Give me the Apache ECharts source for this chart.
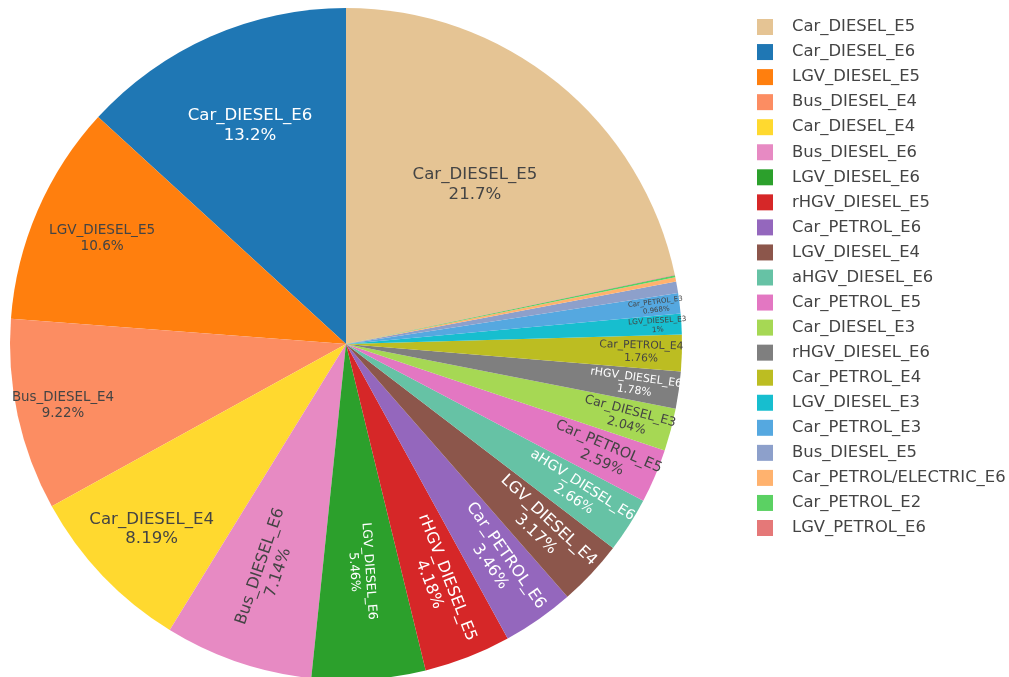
<!DOCTYPE html>
<html>
<head>
<meta charset="utf-8">
<script src="https://cdn.jsdelivr.net/npm/echarts@6/dist/echarts.min.js"></script>
<style>
  html, body { margin: 0; padding: 0; background: #fff; }
  #chart { width: 1009px; height: 677px; }
</style>
</head>
<body>
<div id="chart"></div>
<script>
// Vehicle category shares (% of total)
const categories = [
  'Car_DIESEL_E5', 'Car_DIESEL_E6', 'LGV_DIESEL_E5', 'Bus_DIESEL_E4', 'Car_DIESEL_E4',
  'Bus_DIESEL_E6', 'LGV_DIESEL_E6', 'rHGV_DIESEL_E5', 'Car_PETROL_E6', 'LGV_DIESEL_E4',
  'aHGV_DIESEL_E6', 'Car_PETROL_E5', 'Car_DIESEL_E3', 'rHGV_DIESEL_E6', 'Car_PETROL_E4',
  'LGV_DIESEL_E3', 'Car_PETROL_E3', 'Bus_DIESEL_E5', 'Car_PETROL/ELECTRIC_E6',
  'Car_PETROL_E2', 'LGV_PETROL_E6'
];
const shares = [
  21.7, 13.2, 10.6, 9.22, 8.19,
  7.14, 5.46, 4.18, 3.46, 3.17,
  2.66, 2.59, 2.04, 1.78, 1.76,
  1.0, 0.968, 0.56, 0.2,
  0.1, 0.02
];

// Styling
const sliceColors = [
  '#e5c494', '#1f77b4', '#ff7f0e', '#fc8d62', '#ffd92f',
  '#e78ac3', '#2ca02c', '#d62728', '#9467bd', '#8c564b',
  '#66c2a5', '#e377c2', '#a6d854', '#7f7f7f', '#bcbd22',
  '#17becf', '#55a8e0', '#8da0cb', '#ffb26e',
  '#5bd163', '#e57878'
];
const DARK = '#444', LIGHT = '#fff';
const labelColors = [
  DARK, LIGHT, DARK, DARK, DARK,
  DARK, LIGHT, LIGHT, LIGHT, LIGHT,
  LIGHT, DARK, DARK, LIGHT, DARK,
  DARK, DARK, DARK
];
const labelSizes = [
  16.6, 16.6, 13.6, 13.4, 16.6,
  16, 12.5, 16, 16, 16,
  14, 14.5, 12.5, 11, 10.7,
  7.5, 7, 5.5
];
// radial position of each label as a fraction of the pie radius
const labelRadius = [
  0.60, 0.70, 0.782, 0.853, 0.79,
  0.70, 0.67, 0.748, 0.78, 0.79,
  0.81, 0.83, 0.86, 0.86, 0.87,
  0.92, 0.92, 0.93
];
const HORIZONTAL_COUNT = 5;

const CX = 346, CY = 344, R = 336;
const FONT = '"DejaVu Sans", Verdana, sans-serif';

const fmtPct = v => String(Number(v.toPrecision(3))) + '%';

// Slices run counter-clockwise; the first one ends at 12 o'clock.
const total = shares.reduce((a, b) => a + b, 0);
const START = 90 - shares[0] / total * 360;

const series = [{
  name: 'share',
  type: 'pie',
  center: [CX, CY],
  radius: [0, R],
  startAngle: START,
  clockwise: false,
  avoidLabelOverlap: false,
  label: { show: false },
  labelLine: { show: false },
  emphasis: { disabled: true },
  itemStyle: { borderWidth: 0 },
  data: categories.map((name, i) => ({
    name, value: shares[i], itemStyle: { color: sliceColors[i] }
  }))
}];

// One transparent overlay ring per labelled slice so each label sits at its own radius
labelRadius.forEach((f, k) => {
  series.push({
    name: 'label' + k,
    type: 'pie',
    center: [CX, CY],
    radius: [Math.max(0, (2 * f - 1) * R), R],
    startAngle: START,
    clockwise: false,
    silent: true,
    avoidLabelOverlap: false,
    emphasis: { disabled: true },
    labelLine: { show: false },
    itemStyle: { color: 'rgba(0,0,0,0)', borderWidth: 0 },
    data: categories.map((name, i) => ({
      name,
      value: shares[i],
      label: i === k ? {
        show: true,
        position: 'inside',
        rotate: k < HORIZONTAL_COUNT ? 0 : 'radial',
        color: labelColors[k],
        fontSize: labelSizes[k],
        lineHeight: labelSizes[k] * 1.2,
        fontFamily: FONT,
        align: 'center',
        formatter: p => p.name + '\n' + fmtPct(p.value)
      } : { show: false }
    }))
  });
});

const chart = echarts.init(document.getElementById('chart'), null, { renderer: 'canvas' });
chart.setOption({
  animation: false,
  backgroundColor: '#fff',
  legend: {
    orient: 'vertical',
    left: 752,
    top: 14,
    data: categories,
    icon: 'rect',
    itemWidth: 16,
    itemHeight: 16,
    itemGap: 9.05,
    selectedMode: false,
    textStyle: {
      fontFamily: FONT,
      fontSize: 16.4,
      lineHeight: 16,
      color: DARK,
      padding: [0, 0, 0, 14]
    }
  },
  series
});
</script>
</body>
</html>
